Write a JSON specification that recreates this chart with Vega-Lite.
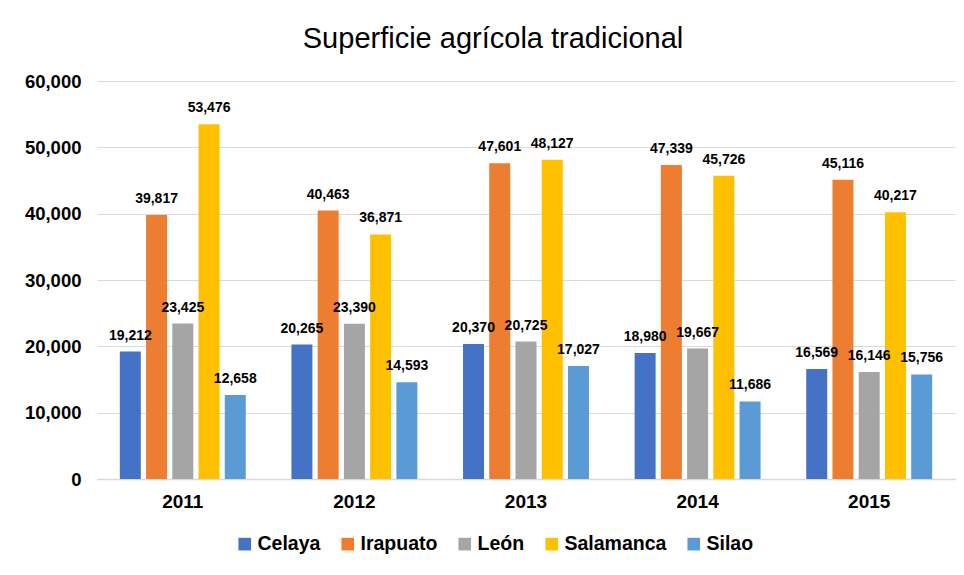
{
  "$schema": "https://vega.github.io/schema/vega-lite/v6.json",
  "width": 858,
  "height": 398,
  "autosize": {"type": "none"},
  "padding": {"left": 97, "top": 81, "right": 9, "bottom": 96},
  "background": "white",
  "config": {
    "font": "Liberation Sans",
    "view": {"stroke": null}
  },
  "title": {
    "text": "Superficie agrícola tradicional",
    "fontSize": 29,
    "fontWeight": "normal",
    "color": "#000000",
    "anchor": "middle",
    "dx": -33,
    "offset": 18
  },
  "data": {
    "values": [
      {"year": "2011", "city": "Celaya", "value": 19212},
      {"year": "2011", "city": "Irapuato", "value": 39817},
      {"year": "2011", "city": "León", "value": 23425},
      {"year": "2011", "city": "Salamanca", "value": 53476},
      {"year": "2011", "city": "Silao", "value": 12658},
      {"year": "2012", "city": "Celaya", "value": 20265},
      {"year": "2012", "city": "Irapuato", "value": 40463},
      {"year": "2012", "city": "León", "value": 23390},
      {"year": "2012", "city": "Salamanca", "value": 36871},
      {"year": "2012", "city": "Silao", "value": 14593},
      {"year": "2013", "city": "Celaya", "value": 20370},
      {"year": "2013", "city": "Irapuato", "value": 47601},
      {"year": "2013", "city": "León", "value": 20725},
      {"year": "2013", "city": "Salamanca", "value": 48127},
      {"year": "2013", "city": "Silao", "value": 17027},
      {"year": "2014", "city": "Celaya", "value": 18980},
      {"year": "2014", "city": "Irapuato", "value": 47339},
      {"year": "2014", "city": "León", "value": 19667},
      {"year": "2014", "city": "Salamanca", "value": 45726},
      {"year": "2014", "city": "Silao", "value": 11686},
      {"year": "2015", "city": "Celaya", "value": 16569},
      {"year": "2015", "city": "Irapuato", "value": 45116},
      {"year": "2015", "city": "León", "value": 16146},
      {"year": "2015", "city": "Salamanca", "value": 40217},
      {"year": "2015", "city": "Silao", "value": 15756}
    ]
  },
  "encoding": {
    "x": {
      "field": "year",
      "type": "nominal",
      "scale": {"paddingInner": 0, "paddingOuter": 0},
      "axis": {
        "title": null,
        "labelAngle": 0,
        "labelFont": "Liberation Sans",
        "labelFontSize": 19,
        "labelFontWeight": "bold",
        "labelColor": "#000000",
        "labelPadding": 13,
        "ticks": false,
        "domain": true,
        "domainColor": "#d9d9d9",
        "domainWidth": 1.5
      }
    },
    "xOffset": {
      "field": "city",
      "type": "nominal",
      "scale": {"domain": ["Celaya", "Irapuato", "León", "Salamanca", "Silao"], "paddingInner": 0.2, "paddingOuter": 0.87}
    },
    "y": {
      "field": "value",
      "type": "quantitative",
      "scale": {"domain": [0, 60000]},
      "axis": {
        "title": null,
        "values": [0, 10000, 20000, 30000, 40000, 50000, 60000],
        "format": ",.0f",
        "labelFont": "Liberation Sans",
        "labelFontSize": 18.5,
        "labelFontWeight": "bold",
        "labelColor": "#000000",
        "labelPadding": 16,
        "ticks": false,
        "domain": false,
        "gridColor": "#d9d9d9",
        "gridWidth": 1.2
      }
    }
  },
  "layer": [
    {
      "mark": {"type": "bar"},
      "encoding": {
        "color": {
          "field": "city",
          "type": "nominal",
          "scale": {
            "domain": ["Celaya", "Irapuato", "León", "Salamanca", "Silao"],
            "range": ["#4472C4", "#ED7D31", "#A5A5A5", "#FFC000", "#5B9BD5"]
          },
          "legend": {
            "title": null,
            "orient": "none",
            "direction": "horizontal",
            "legendX": 138,
            "legendY": 453,
            "symbolType": "square",
            "symbolSize": 160,
            "symbolStrokeWidth": 0,
            "labelFont": "Liberation Sans",
            "labelFontSize": 19.5,
            "labelFontWeight": "bold",
            "labelColor": "#000000",
            "labelOffset": 3,
            "columnPadding": 17
          }
        }
      }
    },
    {
      "mark": {"type": "text", "baseline": "bottom", "dy": -9, "fontSize": 14, "fontWeight": "bold", "font": "Liberation Sans", "color": "#000000"},
      "encoding": {
        "text": {"field": "value", "type": "quantitative", "format": ",.0f"}
      }
    }
  ]
}
